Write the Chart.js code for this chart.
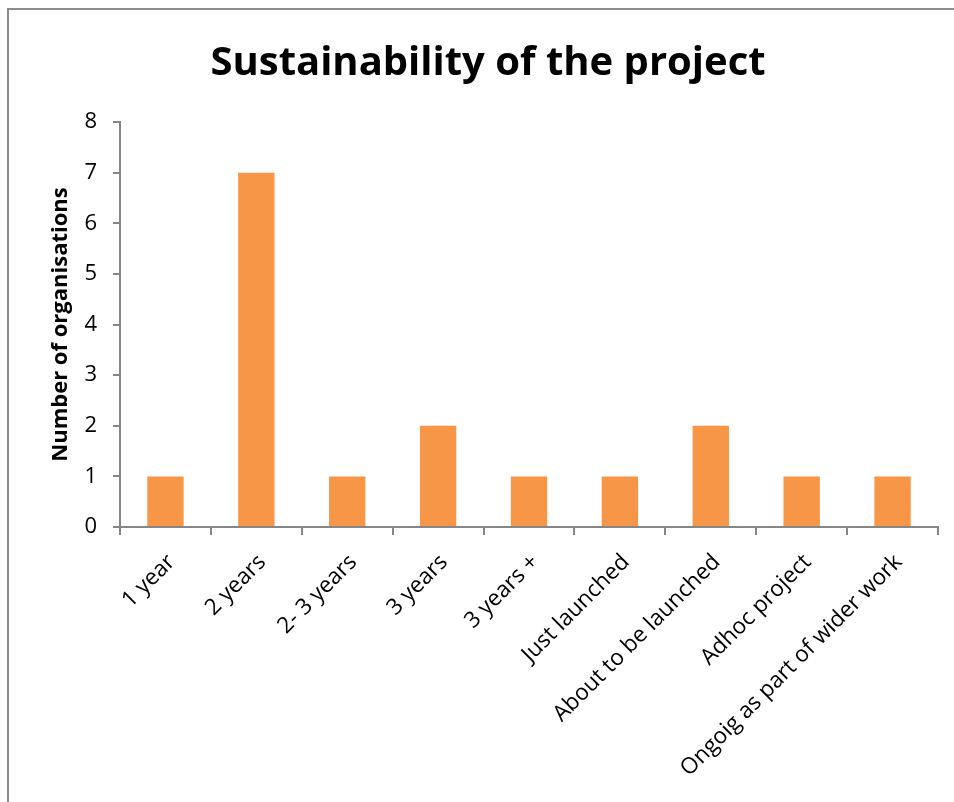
<!DOCTYPE html>
<html>
<head>
<meta charset="utf-8">
<script src="https://cdn.jsdelivr.net/npm/chart.js@4/dist/chart.umd.min.js"></script>
<style>
    html, body { margin: 0; padding: 0; background: #ffffff; }
    #wrap { position: relative; width: 954px; height: 802px; overflow: hidden; }
    #frame {
        position: absolute; left: 7px; top: 8px; width: 960px; height: 810px;
        border-left: 2px solid #8c8c8c; border-top: 2px solid #8c8c8c;
        pointer-events: none;
    }
    #sustainChart { position: absolute; left: 0; top: 0; }
</style>
</head>
<body>
<div id="wrap">
    <canvas id="sustainChart" width="954" height="802"></canvas>
    <div id="frame"></div>
</div>
<script>
const categories = [
    '1 year', '2 years', '2- 3 years', '3 years', '3 years +',
    'Just launched', 'About to be launched', 'Adhoc project', 'Ongoig as part of wider work'
];
const organisationCounts = [1, 7, 1, 2, 1, 1, 2, 1, 1];
const yMin = 0;
const yMax = 8;
const yStep = 1;

const barColor = '#f79646';
const axisColor = '#868686';
const fontFamily = '"Open Sans", "Noto Sans", sans-serif';

const canvas = document.getElementById('sustainChart');

new Chart(canvas, {
    type: 'bar',
    data: {
        labels: categories,
        datasets: [
            {
                label: 'Number of organisations',
                data: organisationCounts,
                backgroundColor: barColor,
                borderWidth: 0,
                categoryPercentage: 1,
                barPercentage: 0.4
            }
        ]
    },
    options: {
        responsive: false,
        animation: false,
        devicePixelRatio: 1,
        // left padding also nudges the centred title to the right
        layout: {
            padding: { left: 38, right: 16, top: 0, bottom: 0 }
        },
        plugins: {
            legend: { display: false },
            tooltip: { enabled: false },
            title: {
                display: true,
                text: 'Sustainability of the project',
                color: '#000000',
                font: { family: fontFamily, size: 40, weight: 'bold' },
                padding: { top: 40, bottom: 34 }
            }
        },
        scales: {
            x: {
                grid: {
                    display: true,
                    drawOnChartArea: false,
                    drawTicks: true,
                    tickLength: 8,
                    color: axisColor,
                    lineWidth: 2,
                    offset: true
                },
                border: { display: true, color: axisColor, width: 2 },
                ticks: {
                    color: '#000000',
                    font: { family: fontFamily, size: 22.5 },
                    minRotation: 45,
                    maxRotation: 45,
                    autoSkip: false,
                    padding: 14,
                    labelOffset: 6
                },
                afterFit: (scale) => {
                    scale.height = 275;
                }
            },
            y: {
                min: yMin,
                max: yMax,
                grid: {
                    display: true,
                    drawOnChartArea: false,
                    drawTicks: true,
                    tickLength: 7,
                    color: axisColor,
                    lineWidth: 2
                },
                border: { display: true, color: axisColor, width: 2 },
                ticks: {
                    stepSize: yStep,
                    color: '#000000',
                    font: { family: fontFamily, size: 22 },
                    padding: 16
                },
                title: {
                    display: true,
                    text: 'Number of organisations',
                    color: '#000000',
                    font: { family: fontFamily, size: 22, weight: 'bold' },
                    padding: { top: 10, bottom: 0 }
                },
                afterFit: (scale) => {
                    scale.width = 82;
                }
            }
        }
    }
});
</script>
</body>
</html>
